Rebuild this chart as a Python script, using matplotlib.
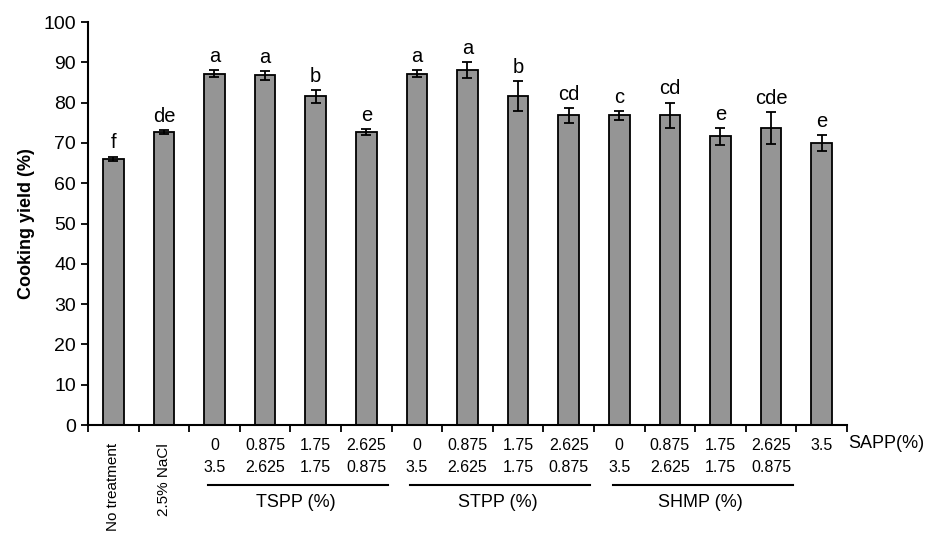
import numpy as np
import matplotlib
matplotlib.use("Agg")
import matplotlib.pyplot as plt

plt.rcParams['font.family'] = ['Liberation Sans', 'DejaVu Sans']

# data
yield_mean = [66.1, 72.7, 87.2, 86.8, 81.6, 72.7, 87.2, 88.1, 81.6, 76.8,
              76.8, 76.8, 71.6, 73.7, 70.0]
yield_err = [0.5, 0.5, 0.9, 1.1, 1.6, 0.7, 0.9, 2.0, 3.8, 1.9,
             1.0, 3.2, 2.0, 3.9, 2.0]
letters = ['f', 'de', 'a', 'a', 'b', 'e', 'a', 'a', 'b', 'cd',
           'c', 'cd', 'e', 'cde', 'e']
first_row = ['0', '0.875', '1.75', '2.625']
second_row = ['3.5', '2.625', '1.75', '0.875']
groups = ['TSPP (%)', 'STPP (%)', 'SHMP (%)']
controls = ['No treatment', '2.5% NaCl']


def main():
    fig = plt.figure(figsize=(9.27, 5.34), dpi=100)
    ax = fig.add_axes([0.0949, 0.2041, 0.8188, 0.7547])

    x = np.arange(len(yield_mean))
    ax.bar(x, yield_mean, width=0.41, color='#959595', edgecolor='black',
           linewidth=1.3, zorder=2)
    ax.errorbar(x, yield_mean, yerr=yield_err, fmt='none', ecolor='black',
                elinewidth=1.3, capsize=3.5, capthick=1.3, zorder=3)
    for xi, m, e, lab in zip(x, yield_mean, yield_err, letters):
        ax.annotate(lab, (xi, m + e), xytext=(0, 3), textcoords='offset points',
                    ha='center', va='bottom', fontsize=14.5)

    ax.set_xlim(-0.5, len(yield_mean) - 0.5)
    ax.set_ylim(0, 100)
    ax.set_yticks(np.arange(0, 101, 10))
    ax.tick_params(axis='y', labelsize=14, width=1.3, length=5, direction='out')
    ax.set_xticks(np.arange(-0.5, len(yield_mean), 1.0))
    ax.set_xticklabels([])
    ax.tick_params(axis='x', width=1.3, length=5, direction='out')
    for s in ['top', 'right']:
        ax.spines[s].set_visible(False)
    for s in ['left', 'bottom']:
        ax.spines[s].set_linewidth(1.5)
    ax.set_ylabel('Cooking yield (%)', fontsize=13, fontweight='bold', labelpad=6)

    tr = ax.get_xaxis_transform()
    # control labels, rotated
    for i, lab in enumerate(controls):
        ax.text(i, -0.045, lab, transform=tr, rotation=90, ha='center',
                va='top', fontsize=11)

    # phosphate / SAPP ratio labels
    for g in range(3):
        start = 2 + 4 * g
        for k in range(4):
            ax.text(start + k, -0.033, first_row[k], transform=tr, ha='center',
                    va='top', fontsize=11.5)
            ax.text(start + k, -0.088, second_row[k], transform=tr, ha='center',
                    va='top', fontsize=11.5)
        ax.plot([start - 0.13, start + 3.43], [-0.15, -0.15], transform=tr,
                color='black', lw=1.5, clip_on=False)
        ax.text(start + 1.6, -0.17, groups[g], transform=tr, ha='center',
                va='top', fontsize=13)
    ax.text(14, -0.033, '3.5', transform=tr, ha='center', va='top', fontsize=11.5)
    ax.text(14.52, -0.025, 'SAPP(%)', transform=tr, ha='left', va='top',
            fontsize=13)

    fig.savefig('out.png', dpi=100)


if __name__ == "__main__":
    main()
